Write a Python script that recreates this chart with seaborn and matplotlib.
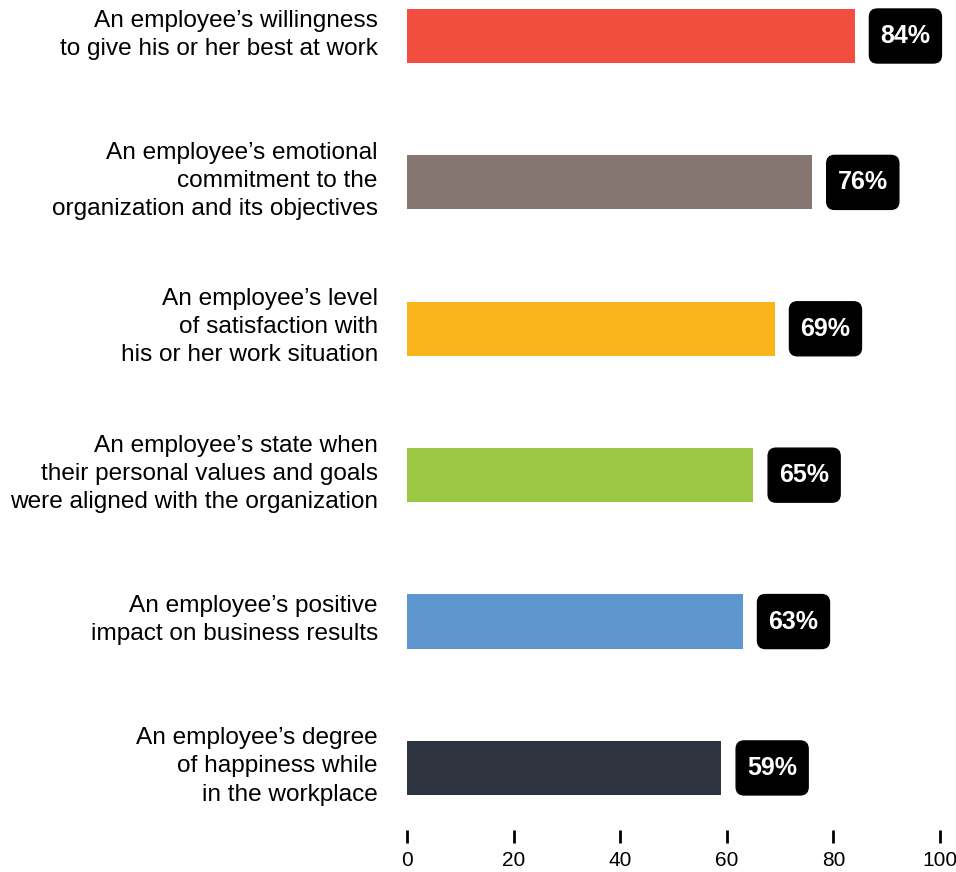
import matplotlib.pyplot as plt
import matplotlib.transforms as mtransforms
from matplotlib.patches import BoxStyle
import seaborn as sns
import pandas as pd

# Datos
categories = [
    "An employee\u2019s willingness\nto give his or her best at work",
    "An employee\u2019s emotional\ncommitment to the\norganization and its objectives",
    "An employee\u2019s level\nof satisfaction with\nhis or her work situation",
    "An employee\u2019s state when\ntheir personal values and goals\nwere aligned with the organization",
    "An employee\u2019s positive\nimpact on business results",
    "An employee\u2019s degree\nof happiness while\nin the workplace",
]
values = [84, 76, 69, 65, 63, 59]
colors = ["#F24E40", "#857671", "#F9B51B", "#9BC842", "#5E97CF", "#2E3540"]
xticks = [0, 20, 40, 60, 80, 100]

df = pd.DataFrame({"category": categories, "value": values})

sns.set_style("white")
plt.rcParams["font.family"] = ["Liberation Sans", "DejaVu Sans"]
plt.rcParams["text.color"] = "black"
plt.rcParams["xtick.color"] = "black"
plt.rcParams["ytick.color"] = "black"

rounded = BoxStyle.Round(pad=0, rounding_size=0.32)


# caja redondeada con margen distinto en horizontal y vertical
def label_box(x0, y0, width, height, mutation_size):
    px = 0.44 * mutation_size
    py = 0.6 * mutation_size
    return rounded(x0 - px, y0 - py, width + 2 * px, height + 2 * py, mutation_size)


fig = plt.figure(figsize=(9.56, 8.72), dpi=100)
ax = fig.add_axes([407 / 956, 42 / 872, 533 / 956, 830 / 872])

sns.barplot(data=df, x="value", y="category", hue="category", palette=colors,
            legend=False, width=0.37, saturation=1, linewidth=0, ax=ax)

# Etiquetas de porcentaje en cajas negras
for i, v in enumerate(values):
    t = ax.annotate(f"{v}%", xy=(v, i), xytext=(36.5, 0), textcoords="offset points",
                    ha="center", va="center", color="white", fontsize=18, fontweight="bold",
                    bbox=dict(fc="black", ec="black"))
    t.get_bbox_patch().set_boxstyle(label_box)

ax.set_xlim(0, 100)
ax.set_ylim(5.424, -0.246)
ax.set_xticks(xticks)
ax.set_xticklabels([str(t) for t in xticks], fontsize=15)
ax.tick_params(axis="x", bottom=True, length=9, width=2, color="black", pad=6)
ax.tick_params(axis="y", left=False, pad=17.5, labelsize=17.6)
shift = mtransforms.ScaledTranslation(0, 7 / 100, fig.dpi_scale_trans)
for lbl in ax.get_yticklabels():
    lbl.set_multialignment("right")
    lbl.set_linespacing(1.36)
    lbl.set_transform(lbl.get_transform() + shift)
ax.set_xlabel("")
ax.set_ylabel("")
sns.despine(left=True, bottom=True)
ax.grid(False)

fig.savefig("out.png", dpi=100)
